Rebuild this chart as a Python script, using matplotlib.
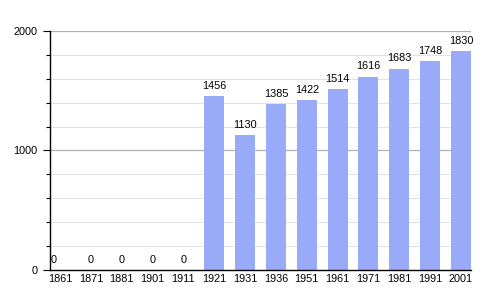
import matplotlib.pyplot as plt
import matplotlib
matplotlib.rcParams['font.family'] = ['Liberation Sans', 'DejaVu Sans']

years = ['1861', '1871', '1881', '1901', '1911', '1921', '1931', '1936',
         '1951', '1961', '1971', '1981', '1991', '2001']
population = [0, 0, 0, 0, 0, 1456, 1130, 1385, 1422, 1514, 1616, 1683, 1748, 1830]

fig = plt.figure(figsize=(5, 3), dpi=100)
ax = fig.add_axes([0.1, 0.1, 0.842, 0.797])

x = list(range(len(years)))
ax.bar(x, population, width=0.65, color='#99aaf8', zorder=2)

for i, v in enumerate(population):
    xpos = i if i > 0 else -0.22
    ax.text(xpos, v + 45, str(v), ha='center', va='bottom', fontsize=7.8, zorder=3)

ax.set_xlim(-0.325, 13.325)
ax.set_ylim(0, 2000)
ax.set_xticks(x)
ax.set_xticklabels(years, fontsize=7.8)
ax.set_yticks([0, 1000, 2000])
ax.set_yticklabels(['0', '1000', '2000'], fontsize=7.8)
ax.set_yticks(range(200, 2000, 200), minor=True)

ax.tick_params(axis='x', length=0, pad=3)
ax.tick_params(axis='y', which='major', length=5, width=0.8, pad=4)
ax.tick_params(axis='y', which='minor', length=3, width=0.8)

for y in range(200, 2000, 200):
    if y % 1000:
        ax.axhline(y, color='#e2e2e2', lw=0.8, zorder=1)
for y in [1000, 2000]:
    ax.axhline(y, color='#b0b0b0', lw=0.9, zorder=1)

ax.spines['top'].set_visible(False)
ax.spines['right'].set_visible(False)
ax.spines['left'].set_linewidth(1.0)
ax.spines['bottom'].set_linewidth(1.0)

fig.savefig('out.png', dpi=100)
